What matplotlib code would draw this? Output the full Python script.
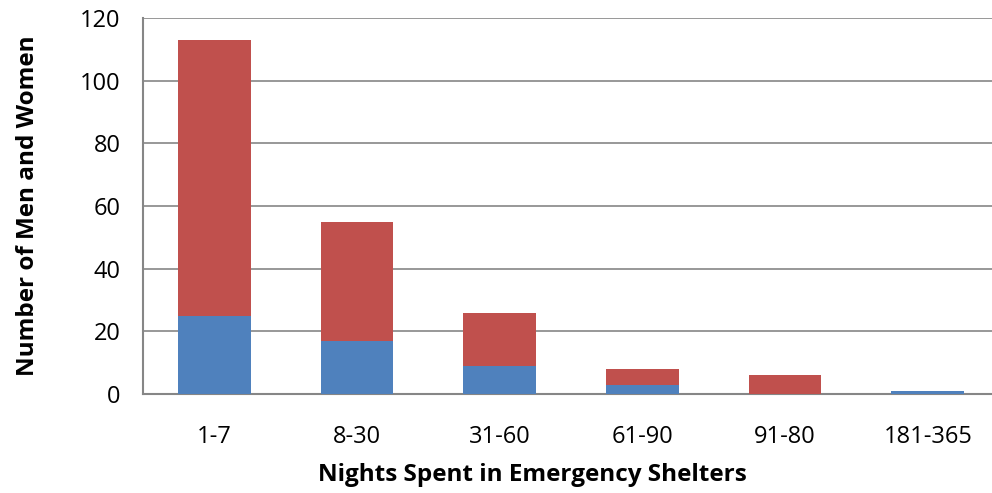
import numpy as np
import matplotlib
matplotlib.use("Agg")
import matplotlib.pyplot as plt

plt.rcParams["font.family"] = ["Open Sans", "DejaVu Sans"]

categories = ["1-7", "8-30", "31-60", "61-90", "91-80", "181-365"]
blue_vals = [25, 17, 9, 3, 0, 1]
red_vals = [88, 38, 17, 5, 6, 0]

fig = plt.figure(figsize=(9.92, 4.93), dpi=100)
ax = fig.add_axes([0.144, 0.2008, 0.856, 0.7627])

x = np.arange(len(categories))
ax.bar(x, blue_vals, width=0.51, color="#4F81BD", zorder=3)
ax.bar(x, red_vals, width=0.51, bottom=blue_vals, color="#C0504D", zorder=3)

ax.set_ylim(0, 120)
ax.set_yticks(range(0, 121, 20))
ax.set_xlim(-0.5, 5.45)
ax.set_xticks(x)
ax.set_xticklabels(categories)

ax.yaxis.grid(True, color="#868686", linewidth=1.2, zorder=0)
for s in ["top", "right"]:
    ax.spines[s].set_visible(False)
for s in ["left", "bottom"]:
    ax.spines[s].set_color("#868686")
    ax.spines[s].set_linewidth(1.5)
ax.tick_params(axis="both", length=0, labelsize=17)
ax.tick_params(axis="x", pad=22)
ax.tick_params(axis="y", pad=16)

ax.set_xlabel("Nights Spent in Emergency Shelters", fontsize=17.5, fontweight="bold")
ax.set_ylabel("Number of Men and Women", fontsize=17.5, fontweight="bold")
ax.xaxis.set_label_coords(0.459, -0.184)
ax.yaxis.set_label_coords(-0.121, 0.5)

fig.savefig("out.png", dpi=100)
